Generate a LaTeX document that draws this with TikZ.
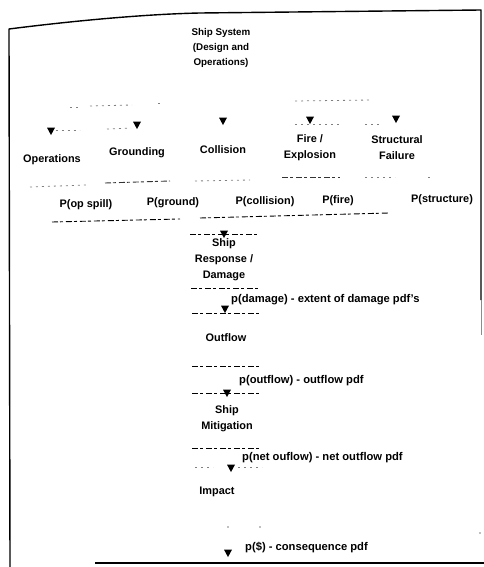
\documentclass[tikz,border=0pt]{standalone}
\usepackage{fontspec}
\setmainfont{Liberation Sans}
\usetikzlibrary{shapes.geometric}
\begin{document}
\begin{tikzpicture}[x=1pt,y=-1pt,
  lbl/.style={font=\bfseries\fontsize{10.9}{16}\selectfont, align=center, inner sep=0pt},
  toplbl/.style={font=\bfseries\fontsize{9.8}{15}\selectfont, align=center, inner sep=0pt},
  plbl/.style={font=\bfseries\fontsize{11.2}{14}\selectfont, anchor=west, inner sep=0pt},
  head/.style={isosceles triangle, shape border rotate=-90, fill=black, draw=none,
    minimum width=8pt, minimum height=7.5pt, inner sep=0pt, isosceles triangle stretches},
  frag/.style={line width=0.9pt, dash pattern=on 6pt off 2pt on 3pt off 3pt},
  faint/.style={black!50, line width=0.8pt, dash pattern=on 2pt off 4pt},
  frame/.style={line width=1.4pt, line join=round}]
\useasboundingbox (0,0) rectangle (484,567);
% frame
\draw[frame] (10,567) -- (9,29) .. controls (80,20) and (150,14) .. (200,13) -- (481,10) -- (481,300);
\draw[line width=1pt, black!45] (481,300) -- (481,335);
\draw[frame] (95,563) -- (484,563);
% top system
\node[toplbl] (sys) at (221,48) {Ship System\\(Design and\\Operations)};
% arrowheads, first level
\node[head] (a1) at (51,130) {};
\node[head] (a2) at (137,124) {};
\node[head] (a3) at (223,120) {};
\node[head] (a4) at (310,119) {};
\node[head] (a5) at (396,118) {};
% faint fragments of the upper connectors
\draw[faint] (70,107) -- (78,107);
\draw[faint] (90,106) -- (132,105);
\draw[faint] (158,103) -- (162,103);
\draw[faint] (295,101) -- (372,100);
\draw[faint] (a1.north east) ++(2,3) -- ++(24,0);
\draw[faint] (107,129) -- (131,128);
\draw[faint] (295,124) -- (340,124);
\draw[faint] (365,124) -- (382,124);
% event boxes
\node[lbl] (ops) at (52,160) {Operations};
\node[lbl] (gnd) at (137,153) {Grounding};
\node[lbl] (col) at (223,150) {Collision};
\node[lbl] (fire) at (310,148) {Fire /\\Explosion};
\node[lbl] (str) at (397,148) {Structural\\Failure};
% lower fragments of event boxes
\draw[faint] (30,187) -- (86,185);
\draw[frag, black!80] (105,183) -- (170,181);
\draw[faint] (195,181) -- (250,180);
\draw[frag, black!80] (282,177) -- (340,177);
\draw[faint] (365,177) -- (395,177);
\draw[faint] (428,177) -- (432,177);
% probabilities
\node[lbl] (pop) at (86,205) {P(op spill)};
\node[lbl] (pgr) at (173,203) {P(ground)};
\node[lbl] (pco) at (265,202) {P(collision)};
\node[lbl] (pfi) at (338,201) {P(fire)};
\node[lbl] (pst) at (442,200) {P(structure)};
\draw[frag] (52,222) -- (180,219);
\draw[frag] (200,218) -- (389,213);
% response chain
\node[head] (a6) at (224,233) {};
\draw[frag] (190,234) -- (259,234);
\node[lbl] (dmg) at (224,260) {Ship\\Response /\\Damage};
\draw[frag] (191,288) -- (258,288);
\node[plbl] (pdmg) at (231,300) {p(damage) - extent of damage pdf's};
\node[head] (a7) at (225,308) {};
\draw[frag] (192,313) -- (260,313);
\node[lbl] (out) at (226,338) {Outflow};
\draw[frag] (192,366) -- (259,366);
\node[plbl] (pout) at (239,381) {p(outflow) - outflow pdf};
\node[head] (a8) at (227,392) {};
\draw[frag] (192,393) -- (260,393);
\node[lbl] (mit) at (227,419) {Ship\\Mitigation};
\draw[frag] (192,448) -- (260,448);
\node[plbl] (pnet) at (242,458) {p(net ouflow) - net outflow pdf};
\node[head] (a9) at (231,467) {};
\draw[faint] (195,467) -- (213,467);
\draw[faint] (238,467) -- (262,467);
\node[lbl] (imp) at (217,492) {Impact};
\fill[black!50] (228,527) circle (0.8);
\fill[black!50] (260,527) circle (0.8);
\fill[black!50] (480,533) circle (0.8);
\node[plbl] (pcon) at (245,547) {p(\$) - consequence pdf};
\node[head] (a10) at (228,552) {};
\end{tikzpicture}
\end{document}
